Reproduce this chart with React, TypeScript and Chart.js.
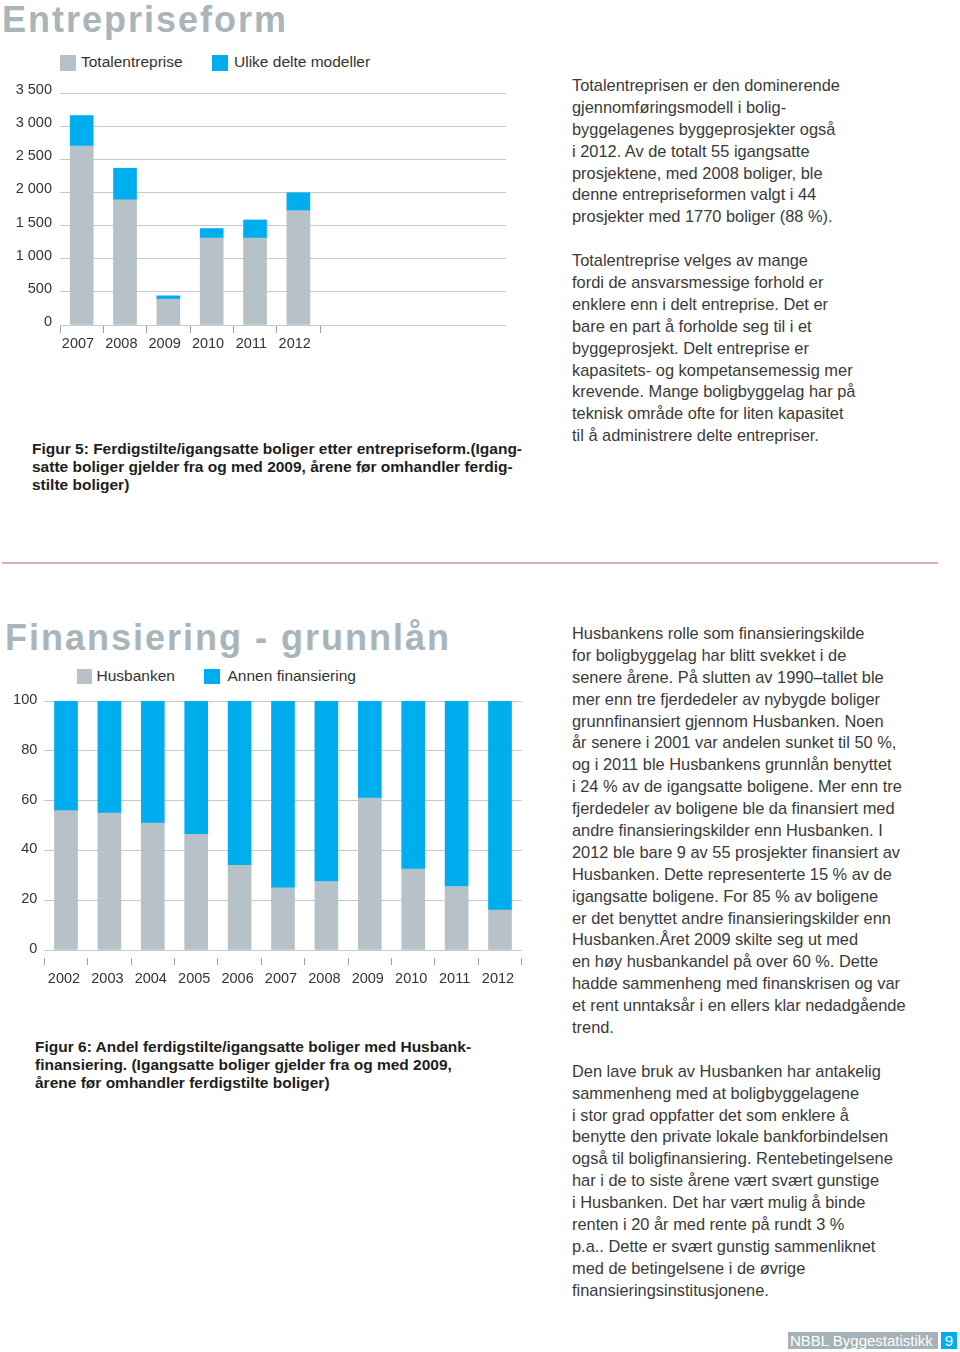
import React, { useEffect, useRef } from 'react';
import { Chart, registerables } from 'chart.js';

Chart.register(...registerables);

const FONT = '"Liberation Sans", Arial, Helvetica, sans-serif';
Chart.defaults.font.family = FONT;

const GRAY = '#b6c1c8';
const BLUE = '#00aeef';
const GRID = '#c4cace';
const TICK = '#9aa3a8';
const TEXT = '#333333';
const TITLE = '#a9b4bb';

// ---- Figur 5: Entrepriseform ----
const entYears = ['2007', '2008', '2009', '2010', '2011', '2012'];
const totalentreprise = [2700, 1890, 390, 1310, 1310, 1725];
const ulikeDelte = [460, 475, 50, 145, 275, 270];
const entLegend = ['Totalentreprise', 'Ulike delte modeller'];

// ---- Figur 6: Finansiering - grunnlån ----
const finYears = ['2002', '2003', '2004', '2005', '2006', '2007', '2008', '2009', '2010', '2011', '2012'];
const husbanken = [56, 55, 51, 46.5, 34, 25, 27.5, 61, 32.5, 25.5, 16];
const annenFinansiering = [44, 45, 49, 53.5, 66, 75, 72.5, 39, 67.5, 74.5, 84];
const finLegend = ['Husbanken', 'Annen finansiering'];

const fmtThousands = (v: number) =>
  v >= 1000 ? `${Math.floor(v / 1000)} ${String(v % 1000).padStart(3, '0')}` : String(v);

function entConfig(): any {
  return {
    type: 'bar',
    data: {
      datasets: [
        {
          label: entLegend[0],
          data: totalentreprise.map((v, i) => ({ x: i + 0.5, y: v })),
          backgroundColor: GRAY,
          barThickness: 23,
        },
        {
          label: entLegend[1],
          data: ulikeDelte.map((v, i) => ({ x: i + 0.5, y: v })),
          backgroundColor: BLUE,
          barThickness: 23,
        },
      ],
    },
    options: {
      animation: false,
      responsive: false,
      maintainAspectRatio: false,
      layout: { padding: { top: 13, right: 14, left: 0, bottom: 0 } },
      plugins: { legend: { display: false }, tooltip: { enabled: false } },
      scales: {
        x: {
          type: 'linear',
          min: 0,
          max: 10.29,
          stacked: true,
          offset: false,
          afterBuildTicks: (s: any) => {
            s.ticks = [...entYears, ''].map((_, i) => ({ value: i }));
          },
          afterFit: (s: any) => {
            s.height = 35;
            s.paddingLeft = 0;
            s.paddingRight = 0;
          },
          grid: { offset: false, drawOnChartArea: false, drawTicks: true, tickLength: 8, color: TICK },
          border: { display: false },
          ticks: {
            callback: (_v: any, i: number) => entYears[i] ?? '',
            labelOffset: 18,
            padding: 2,
            maxRotation: 0,
            autoSkip: false,
            font: { size: 14.5 },
            color: TEXT,
          },
        },
        y: {
          stacked: true,
          min: 0,
          max: 3500,
          afterFit: (s: any) => {
            s.width = 60;
            s.paddingTop = 0;
            s.paddingBottom = 0;
          },
          grid: { color: GRID, drawTicks: false, lineWidth: 1 },
          border: { display: false },
          ticks: {
            stepSize: 500,
            padding: 8,
            labelOffset: -3,
            callback: (v: any) => fmtThousands(Number(v)),
            font: { size: 14.5 },
            color: TEXT,
          },
        },
      },
    },
  };
}

function finConfig(): any {
  return {
    type: 'bar',
    data: {
      labels: finYears,
      datasets: [
        { label: finLegend[0], data: husbanken, backgroundColor: GRAY, barThickness: 23 },
        { label: finLegend[1], data: annenFinansiering, backgroundColor: BLUE, barThickness: 23 },
      ],
    },
    options: {
      animation: false,
      responsive: false,
      maintainAspectRatio: false,
      layout: { padding: { top: 11, right: 18.3, left: 0, bottom: 0 } },
      plugins: { legend: { display: false }, tooltip: { enabled: false } },
      scales: {
        x: {
          stacked: true,
          offset: true,
          afterFit: (s: any) => {
            s.height = 40;
            s.paddingLeft = 0;
            s.paddingRight = 0;
          },
          grid: {
            offset: true,
            drawOnChartArea: false,
            drawTicks: true,
            tickLength: 15,
            tickBorderDash: [0, 8, 7, 30],
            color: TICK,
          },
          border: { display: false },
          ticks: {
            padding: 5,
            labelOffset: -2,
            maxRotation: 0,
            autoSkip: false,
            font: { size: 14.5 },
            color: TEXT,
          },
        },
        y: {
          stacked: true,
          min: 0,
          max: 100,
          afterFit: (s: any) => {
            s.width = 44.3;
            s.paddingTop = 0;
            s.paddingBottom = 0;
          },
          grid: { color: GRID, drawTicks: false, lineWidth: 1 },
          border: { display: false },
          ticks: {
            stepSize: 20,
            padding: 7,
            labelOffset: -1,
            font: { size: 14.5 },
            color: TEXT,
          },
        },
      },
    },
  };
}

function ChartCanvas({ make, left, top, width, height }: any) {
  const ref = useRef<HTMLCanvasElement>(null);
  useEffect(() => {
    const chart = new Chart(ref.current as HTMLCanvasElement, make());
    return () => chart.destroy();
  }, []);
  return (
    <canvas
      ref={ref}
      width={width}
      height={height}
      style={{ position: 'absolute', left, top, width, height, display: 'block' }}
    />
  );
}

const abs = (left: number, top: number, extra: React.CSSProperties = {}): React.CSSProperties => ({
  position: 'absolute',
  left,
  top,
  ...extra,
});

const entText = [
  'Totalentreprisen er den dominerende',
  'gjennomføringsmodell i bolig-',
  'byggelagenes byggeprosjekter også',
  'i 2012. Av de totalt 55 igangsatte',
  'prosjektene, med 2008 boliger, ble',
  'denne entrepriseformen valgt i 44',
  'prosjekter med 1770 boliger (88 %).',
  '',
  'Totalentreprise velges av mange',
  'fordi de ansvarsmessige forhold er',
  'enklere enn i delt entreprise. Det er',
  'bare en part å forholde seg til i et',
  'byggeprosjekt. Delt entreprise er',
  'kapasitets- og kompetansemessig mer',
  'krevende. Mange boligbyggelag har på',
  'teknisk område ofte for liten kapasitet',
  'til å administrere delte entrepriser.',
];

const finText = [
  'Husbankens rolle som finansieringskilde',
  'for boligbyggelag har blitt svekket i de',
  'senere årene. På slutten av 1990–tallet ble',
  'mer enn tre fjerdedeler av nybygde boliger',
  'grunnfinansiert gjennom Husbanken. Noen',
  'år senere i 2001 var andelen sunket til 50 %,',
  'og i 2011 ble Husbankens grunnlån benyttet',
  'i 24 % av de igangsatte boligene. Mer enn tre',
  'fjerdedeler av boligene ble da finansiert med',
  'andre finansieringskilder enn Husbanken. I',
  '2012 ble bare 9 av 55 prosjekter finansiert av',
  'Husbanken. Dette representerte 15 % av de',
  'igangsatte boligene. For 85 % av boligene',
  'er det benyttet andre finansieringskilder enn',
  'Husbanken.Året 2009 skilte seg ut med',
  'en høy husbankandel på over 60 %. Dette',
  'hadde sammenheng med finanskrisen og var',
  'et rent unntaksår i en ellers klar nedadgående',
  'trend.',
  '',
  'Den lave bruk av Husbanken har antakelig',
  'sammenheng med at boligbyggelagene',
  'i stor grad oppfatter det som enklere å',
  'benytte den private lokale bankforbindelsen',
  'også til boligfinansiering. Rentebetingelsene',
  'har i de to siste årene vært svært gunstige',
  'i Husbanken. Det har vært mulig å binde',
  'renten i 20 år med rente på rundt 3 %',
  'p.a.. Dette er svært gunstig sammenliknet',
  'med de betingelsene i de øvrige',
  'finansieringsinstitusjonene.',
];

const caption5 = [
  'Figur 5: Ferdigstilte/igangsatte boliger etter entrepriseform.(Igang-',
  'satte boliger gjelder fra og med 2009, årene før omhandler ferdig-',
  'stilte boliger)',
];

const caption6 = [
  'Figur 6: Andel ferdigstilte/igangsatte boliger med Husbank-',
  'finansiering. (Igangsatte boliger gjelder fra og med 2009,',
  'årene før omhandler ferdigstilte boliger)',
];

function Lines({ lines, style }: { lines: string[]; style: React.CSSProperties }) {
  return (
    <div style={style}>
      {lines.map((l, i) => (
        <div key={i} style={{ whiteSpace: 'nowrap', height: style.lineHeight }}>
          {l || '\u00a0'}
        </div>
      ))}
    </div>
  );
}

const titleStyle: React.CSSProperties = {
  fontFamily: FONT,
  fontWeight: 700,
  fontSize: 36,
  lineHeight: '36px',
  letterSpacing: 2.0,
  color: TITLE,
  whiteSpace: 'nowrap',
};

const bodyStyle = (left: number, top: number): React.CSSProperties => ({
  position: 'absolute',
  left,
  top,
  fontFamily: FONT,
  fontSize: 16.4,
  lineHeight: '21.9px',
  color: '#3a3a3a',
});

const captionStyle = (left: number, top: number): React.CSSProperties => ({
  position: 'absolute',
  left,
  top,
  fontFamily: FONT,
  fontWeight: 700,
  fontSize: 15.5,
  lineHeight: '18px',
  color: '#1e1e1e',
});

const legendText: React.CSSProperties = {
  fontFamily: FONT,
  fontSize: 15.5,
  lineHeight: '18px',
  color: TEXT,
  whiteSpace: 'nowrap',
};

export default function App() {
  return (
    <div
      style={{
        position: 'absolute',
        left: 0,
        top: 0,
        width: 960,
        height: 1352,
        background: '#ffffff',
        overflow: 'hidden',
        fontFamily: FONT,
      }}
    >
      {/* Section 1 */}
      <div style={abs(2, 2, titleStyle)}>Entrepriseform</div>

      <div style={abs(60, 55, { width: 16, height: 16, background: GRAY })} />
      <div style={abs(81, 53, legendText)}>{entLegend[0]}</div>
      <div style={abs(212, 55, { width: 16, height: 16, background: BLUE })} />
      <div style={abs(234, 53, legendText)}>{entLegend[1]}</div>

      <ChartCanvas make={entConfig} left={0} top={80} width={520} height={280} />

      <Lines lines={caption5} style={captionStyle(32, 440)} />
      <Lines lines={entText} style={bodyStyle(572, 75)} />

      <div style={abs(2, 562, { width: 936, height: 2, background: '#d5abc3' })} />

      {/* Section 2 */}
      <div style={abs(5, 620, titleStyle)}>Finansiering - grunnlån</div>

      <div style={abs(77, 669, { width: 15, height: 15, background: GRAY })} />
      <div style={abs(96.5, 667, legendText)}>{finLegend[0]}</div>
      <div style={abs(204, 669, { width: 16, height: 15, background: BLUE })} />
      <div style={abs(227.5, 667, legendText)}>{finLegend[1]}</div>

      <ChartCanvas make={finConfig} left={0} top={690} width={540} height={300} />

      <Lines lines={caption6} style={captionStyle(35, 1038)} />
      <Lines lines={finText} style={bodyStyle(572, 623)} />

      {/* Footer */}
      <div
        style={abs(788, 1332, {
          width: 150,
          height: 17,
          background: '#a6b1b8',
          color: '#ffffff',
          fontSize: 15,
          lineHeight: '17px',
          paddingLeft: 2,
          boxSizing: 'border-box',
          whiteSpace: 'nowrap',
        })}
      >
        NBBL Byggestatistikk
      </div>
      <div
        style={abs(941, 1332, {
          width: 16,
          height: 17,
          background: BLUE,
          color: '#ffffff',
          fontSize: 15,
          lineHeight: '17px',
          textAlign: 'center',
        })}
      >
        9
      </div>
    </div>
  );
}
